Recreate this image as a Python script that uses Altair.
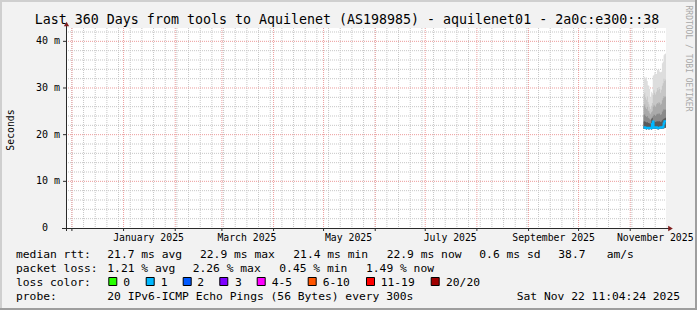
import altair as alt
import pandas as pd

# ---------------- data ----------------
times = [
    "2025-11-09T00:00:00Z", "2025-11-09T12:00:00Z", "2025-11-10T00:00:00Z", "2025-11-10T12:00:00Z",
    "2025-11-11T00:00:00Z", "2025-11-11T12:00:00Z", "2025-11-12T00:00:00Z", "2025-11-12T12:00:00Z",
    "2025-11-13T00:00:00Z", "2025-11-13T12:00:00Z", "2025-11-14T00:00:00Z", "2025-11-14T12:00:00Z",
    "2025-11-15T00:00:00Z", "2025-11-15T12:00:00Z", "2025-11-16T00:00:00Z", "2025-11-16T12:00:00Z",
    "2025-11-17T00:00:00Z", "2025-11-17T12:00:00Z", "2025-11-18T00:00:00Z", "2025-11-18T12:00:00Z",
    "2025-11-19T00:00:00Z", "2025-11-19T12:00:00Z", "2025-11-20T00:00:00Z", "2025-11-20T12:00:00Z",
    "2025-11-21T00:00:00Z", "2025-11-21T12:00:00Z", "2025-11-22T00:00:00Z", "2025-11-22T11:04:24Z",
]
ping_min = [21.2, 21.3, 21.2, 21.1, 21.2, 21.2, 21.1, 21.2, 21.2, 21.1, 21.2, 21.3, 21.3, 21.2,
            21.2, 21.3, 21.2, 21.1, 21.2, 21.2, 21.3, 21.2, 21.3, 21.3, 21.4, 21.5, 21.5, 21.5]
median_rtt = [21.5, 21.6, 21.5, 21.4, 21.5, 21.5, 21.4, 21.5, 21.5, 21.4, 22.3, 22.8, 21.6, 21.5,
              21.5, 21.6, 21.5, 21.4, 21.5, 21.5, 21.6, 21.5, 21.6, 21.7, 22.4, 22.9, 22.9, 22.9]
smoke_1 = [22.8, 22.9, 22.7, 22.6, 22.7, 22.5, 22.5, 22.4, 22.4, 23.3, 23.6, 22.7, 22.8, 22.8,
           22.7, 22.8, 22.9, 22.8, 22.9, 22.9, 22.7, 22.8, 23.1, 23.3, 23.4, 23.5, 23.6, 23.6]
smoke_2 = [24.2, 24.4, 24.0, 23.8, 24.0, 23.6, 23.5, 23.3, 23.2, 23.5, 23.6, 24.0, 24.3, 24.2,
           24.0, 24.3, 24.5, 24.4, 24.6, 24.5, 24.2, 24.4, 24.9, 25.2, 25.5, 25.3, 25.4, 25.4]
smoke_3 = [26.2, 26.5, 25.8, 25.5, 26.0, 25.2, 25.0, 24.6, 24.4, 24.8, 25.0, 26.0, 26.4, 26.2,
           26.0, 26.5, 26.8, 26.6, 27.0, 26.8, 26.4, 26.6, 27.4, 27.8, 28.3, 28.0, 28.2, 28.2]
smoke_4 = [28.5, 29.0, 28.0, 27.5, 28.2, 27.0, 26.5, 26.0, 25.5, 26.2, 26.8, 28.5, 29.5, 29.0,
           28.6, 29.2, 30.0, 29.5, 30.2, 29.8, 29.0, 29.6, 30.5, 31.0, 32.0, 31.5, 31.8, 31.8]
smoke_5 = [32.3, 32.4, 32.1, 32.3, 31.5, 30.6, 30.5, 29.8, 28.0, 29.2, 28.9, 32.6, 32.8, 33.3,
           33.1, 33.0, 33.9, 33.8, 33.9, 33.5, 33.4, 33.5, 35.3, 35.6, 37.0, 37.3, 37.4, 37.4]

range_start = "2024-11-27T11:04:24Z"
range_end = "2025-11-22T11:04:24Z"
month_starts = ["2024-12-01", "2025-01-01", "2025-02-01", "2025-03-01", "2025-04-01", "2025-05-01",
                "2025-06-01", "2025-07-01", "2025-08-01", "2025-09-01", "2025-10-01", "2025-11-01"]
x_label_dates = ["2025-01-16", "2025-03-16", "2025-05-16", "2025-07-16", "2025-09-16", "2025-11-16"]
x_labels = ["January 2025", "March 2025", "May 2025", "July 2025", "September 2025", "November 2025"]
y_major = [10, 20, 30, 40]
y_major_labels = ["10 m", "20 m", "30 m", "40 m"]
y_minor = [2, 4, 6, 8, 12, 14, 16, 18, 22, 24, 26, 28, 32, 34, 36, 38, 42]
y_max = 42.857

title = "Last 360 Days from tools to Aquilenet (AS198985) - aquilenet01 - 2a0c:e300::38"
leg1 = ["median rtt:", "21.7 ms avg", "22.9 ms max", "21.4 ms min", "22.9 ms now", "0.6 ms sd", "38.7", "am/s"]
leg2 = ["packet loss:", "1.21 % avg", "2.26 % max", "0.45 % min", "1.49 % now"]
loss_labels = ["0", "1", "2", "3", "4-5", "6-10", "11-19", "20/20"]
loss_colors = ["#26ff00", "#00b8ff", "#0059ff", "#7e00ff", "#ff00ff", "#ff5500", "#ff0000", "#a00000"]
probe_text = "20 IPv6-ICMP Echo Pings (56 Bytes) every 300s"
stamp = "Sat Nov 22 11:04:24 2025"

# ---------------- layout ----------------
OX, OY = 66, 28
W, H = 600, 200
FONT = "DejaVu Sans Mono"
leg1_x = [16, 107.3, 200, 293.3, 386.7, 479.3, 558.3, 606.7]
leg2_x = [16, 107.3, 192.7, 279.3, 366]
sq_x = [108.3, 145.7, 182.7, 219.3, 256.7, 307.7, 366, 430.7]
sq_label_x = [123.3, 160.7, 197.3, 235, 271.7, 322.7, 380.7, 446]
line_y = [257.5, 271.5, 285.5, 299.5]
LEG_SIZE = 11.3

ONE = pd.DataFrame({"_": [0]})

def ts(s):
    return int(pd.Timestamp(s).value // 10**6)

XS = alt.Scale(type="utc", domain=[ts(range_start), ts(range_end)], nice=False)
YS = alt.Scale(domain=[0, y_max], nice=False, zero=False)


def tx(field):
    return alt.X(f"{field}:T", scale=XS, axis=None, title=None)


def ty(field):
    return alt.Y(f"{field}:Q", scale=YS, axis=None, title=None)


def txt(s, cx, cy, size, align="left", color="black", angle=None, baseline="alphabetic"):
    kw = dict(font=FONT, fontSize=size, align=align, baseline=baseline, color=color)
    if angle is not None:
        kw["angle"] = angle
    return alt.Chart(ONE).mark_text(**kw).encode(
        x=alt.value(cx - OX), y=alt.value(cy - OY), text=alt.value(s))


def box(cx0, cy0, cx1, cy1, fill, stroke=None):
    kw = dict(fill=fill)
    if stroke:
        kw.update(stroke=stroke, strokeWidth=1)
    return alt.Chart(ONE).mark_rect(**kw).encode(
        x=alt.value(cx0 - OX), x2=alt.value(cx1 - OX), y=alt.value(cy0 - OY), y2=alt.value(cy1 - OY))


layers = []

# frame shading
layers.append(box(0, 0, 697, 2, "#cfcfcf"))
layers.append(box(0, 0, 2, 310, "#cfcfcf"))
layers.append(box(0, 308, 697, 310, "#9e9e9e"))
layers.append(box(695, 0, 697, 310, "#9e9e9e"))

# grid
weeks = [d.strftime("%Y-%m-%dT00:00:00Z") for d in pd.date_range("2024-12-01", "2025-11-16", freq="7D")]
week_df = pd.DataFrame({"t": weeks})
month_df = pd.DataFrame({"t": [m + "T00:00:00Z" for m in month_starts]})
ymin_df = pd.DataFrame({"v": y_minor})
ymaj_df = pd.DataFrame({"v": y_major, "label": y_major_labels})

GRID_MINOR = dict(color="#c6c6c6", strokeDash=[1, 1], strokeWidth=1)
GRID_MAJOR = dict(color="#ec9c9c", strokeDash=[1, 1], strokeWidth=1)

layers.append(alt.Chart(week_df).mark_rule(**GRID_MINOR).encode(x=tx("t"), y=alt.value(0), y2=alt.value(H)))
layers.append(alt.Chart(ymin_df).mark_rule(**GRID_MINOR).encode(y=ty("v"), x=alt.value(0), x2=alt.value(W)))
layers.append(alt.Chart(month_df).mark_rule(**GRID_MAJOR).encode(x=tx("t"), y=alt.value(0), y2=alt.value(H)))
layers.append(alt.Chart(ymaj_df).mark_rule(**GRID_MAJOR).encode(y=ty("v"), x=alt.value(0), x2=alt.value(W)))

# smoke
smoke = pd.DataFrame({"t": times, "lo": ping_min, "median": median_rtt,
                      "s1": smoke_1, "s2": smoke_2, "s3": smoke_3, "s4": smoke_4, "s5": smoke_5})
for col, colr in [("s5", "#dddddd"), ("s4", "#c6c6c6"), ("s3", "#aaaaaa"), ("s2", "#8a8a8a"), ("s1", "#5a5a5a")]:
    layers.append(alt.Chart(smoke).mark_area(interpolate="step-after", color=colr, opacity=1).encode(
        x=tx("t"), y=ty("lo"), y2=alt.Y2(f"{col}:Q")))
layers.append(alt.Chart(smoke).mark_line(interpolate="step-after", color="#00b8ff", strokeWidth=2).encode(
    x=tx("t"), y=ty("median")))

# axes
AXC = "#2a2a2a"
layers.append(alt.Chart(ONE).mark_rule(color=AXC, strokeWidth=1).encode(
    x=alt.value(0.5), y=alt.value(-3), y2=alt.value(H + 3)))
layers.append(alt.Chart(ONE).mark_rule(color=AXC, strokeWidth=1).encode(
    y=alt.value(H + 0.5), x=alt.value(-4), x2=alt.value(W + 3)))
layers.append(alt.Chart(ymaj_df).mark_rule(color=AXC).encode(y=ty("v"), x=alt.value(-3), x2=alt.value(0)))
layers.append(alt.Chart(month_df).mark_rule(color=AXC).encode(x=tx("t"), y=alt.value(H), y2=alt.value(H + 3)))
layers.append(alt.Chart(ONE).mark_point(shape="triangle-up", filled=True, color="#801f1f", size=28, opacity=1).encode(
    x=alt.value(0.5), y=alt.value(-4)))
layers.append(alt.Chart(ONE).mark_point(shape="triangle-right", filled=True, color="#801f1f", size=28, opacity=1).encode(
    x=alt.value(W + 4.5), y=alt.value(H + 0.5)))

# axis labels
layers.append(alt.Chart(ymaj_df).mark_text(font=FONT, fontSize=10, align="right", baseline="middle", color="black").encode(
    y=ty("v"), x=alt.value(-6), text="label:N"))
layers.append(alt.Chart(pd.DataFrame({"v": [0], "label": ["0"]})).mark_text(
    font=FONT, fontSize=10, align="right", baseline="middle", color="black").encode(
    y=ty("v"), x=alt.value(-18), text="label:N"))
xl_df = pd.DataFrame({"t": [d + "T00:00:00Z" for d in x_label_dates], "label": x_labels})
layers.append(alt.Chart(xl_df).mark_text(font=FONT, fontSize=9.8, align="center", baseline="alphabetic", color="black").encode(
    x=tx("t"), y=alt.value(240.5 - OY), text="label:N"))

# titles
layers.append(txt(title, 347, 24, 13.3, align="center"))
layers.append(txt("Seconds", 10.5, 130, 9.8, align="center", angle=270, baseline="middle"))
layers.append(txt("RRDTOOL / TOBI OETIKER", 688, 58.5, 8, align="center", angle=90, baseline="middle", color="#a8a8a8"))

# legend
for s, x in zip(leg1, leg1_x):
    layers.append(txt(s, x, line_y[0], LEG_SIZE))
for s, x in zip(leg2, leg2_x):
    layers.append(txt(s, x, line_y[1], LEG_SIZE))
layers.append(txt("loss color:", 16, line_y[2], LEG_SIZE))
for lab, colr, sx, lx in zip(loss_labels, loss_colors, sq_x, sq_label_x):
    layers.append(box(sx + 0.5, 277.5, sx + 8.5, 285.5, colr, stroke="black"))
    layers.append(txt(lab, lx, line_y[2], LEG_SIZE))
layers.append(txt("probe:", 16, line_y[3], LEG_SIZE))
layers.append(txt(probe_text, 107.3, line_y[3], LEG_SIZE))
layers.append(txt(stamp, 680, line_y[3], LEG_SIZE, align="right"))

chart = alt.layer(*layers).properties(
    width=W, height=H,
    autosize=alt.AutoSizeParams(type="none"),
    padding={"left": OX, "top": OY, "right": 697 - OX - W, "bottom": 310 - OY - H},
).configure(background="#f2f2f2").configure_view(fill="white", stroke=None)

chart.save("out.html", embed_options={"renderer": "svg", "actions": False})
